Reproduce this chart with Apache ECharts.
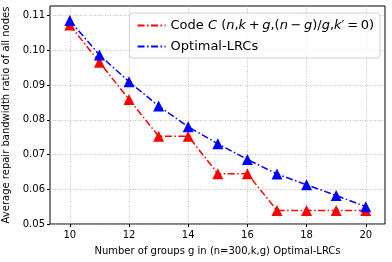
<!DOCTYPE html>
<html><head><meta charset="utf-8">
<script src="https://cdn.jsdelivr.net/npm/echarts@6/dist/echarts.min.js"></script>
<style>html,body{margin:0;padding:0;background:#fff}#c{width:392px;height:262px}</style>
</head><body><div id="c"></div>
<script>
const groups = [10, 11, 12, 13, 14, 15, 16, 17, 18, 19, 20];
const codeC = [0.1073, 0.0966, 0.0859, 0.0753, 0.0753, 0.0645, 0.0645, 0.0539, 0.0539, 0.0539, 0.0539];
const optimal = [0.1086, 0.0987, 0.0910, 0.0840, 0.0780, 0.0731, 0.0686, 0.0644, 0.0613, 0.0582, 0.0550];
const yTicks = [0.05, 0.06, 0.07, 0.08, 0.09, 0.10, 0.11];
const xTicks = [10, 12, 14, 16, 18, 20];
const seriesNames = ['Code C', 'Optimal-LRCs'];

const F = 'DejaVu Sans';
const chart = echarts.init(document.getElementById('c'), null, {renderer: 'canvas'});
const dash = [7, 2.5, 1.5, 2.5];
function mk(name, data, color) {
  return {
    name, type: 'line',
    data: groups.map((g, i) => [g, data[i]]),
    symbol: 'triangle', symbolSize: 11,
    itemStyle: {color},
    lineStyle: {color, width: 1.5, type: dash},
    z: name === seriesNames[0] ? 3 : 4
  };
}
const ts = '\u2009';
chart.setOption({
  animation: false,
  grid: {left: 50, right: 7, top: 6, bottom: 38, show: true, borderColor: '#000', borderWidth: 1,
    outerBoundsMode: 'none', containLabel: false},
  legend: {
    right: 12, top: 13, orient: 'vertical',
    itemWidth: 28, itemHeight: 10, itemGap: 8,
    padding: [6, 6, 5, 7],
    borderColor: '#d0d0d0', borderWidth: 1, borderRadius: 3, backgroundColor: 'rgba(255,255,255,0.8)',
    itemStyle: {opacity: 0},
    formatter: function (n) {
      if (n === seriesNames[0]) {
        return 'Code {i|C} ({i|n},{i|k}' + ts + '+' + ts + '{i|g},({i|n}' + ts + '−' + ts + '{i|g})/{i|g},{i|k}′' + ts + '=' + ts + '0)';
      }
      return n;
    },
    textStyle: {fontFamily: F, fontSize: 13, color: '#000',
      rich: {i: {fontFamily: F, fontStyle: 'italic', fontSize: 13, color: '#000'}}},
    data: seriesNames
  },
  xAxis: {
    type: 'value', min: 9.33, max: 20.65,
    name: 'Number of groups g in (n=300,k,g) Optimal-LRCs',
    nameLocation: 'middle', nameGap: 22,
    nameTextStyle: {fontFamily: F, fontSize: 10, color: '#000'},
    axisLine: {show: false},
    axisTick: {show: true, length: 3, lineStyle: {color: '#000'}, customValues: xTicks},
    axisLabel: {fontFamily: F, fontSize: 10, color: '#000', margin: 6, customValues: xTicks,
      formatter: v => String(v)},
    splitLine: {show: true, lineStyle: {color: '#b0b0b0', type: [1, 1.5], width: 0.8}},
    interval: 2
  },
  yAxis: {
    type: 'value', min: 0.05, max: 0.1128,
    name: 'Average repair bandwidth ratio of all nodes',
    nameLocation: 'middle', nameGap: 34,
    nameTextStyle: {fontFamily: F, fontSize: 10, color: '#000'},
    axisLine: {show: false},
    axisTick: {show: true, length: 3, lineStyle: {color: '#000'}, customValues: yTicks},
    axisLabel: {fontFamily: F, fontSize: 10, color: '#000', margin: 5, customValues: yTicks,
      formatter: v => v.toFixed(2)},
    splitLine: {show: true, lineStyle: {color: '#b0b0b0', type: [1, 1.5], width: 0.8}},
    interval: 0.01
  },
  series: [mk(seriesNames[0], codeC, '#ff0000'), mk(seriesNames[1], optimal, '#0000ff')]
});
</script></body></html>
